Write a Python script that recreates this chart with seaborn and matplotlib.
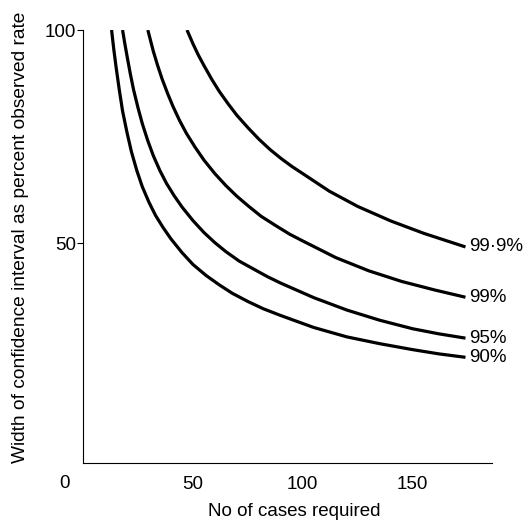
import pandas as pd
import matplotlib
matplotlib.use("Agg")
import matplotlib.pyplot as plt
import seaborn as sns

# values (no of cases, width as % of observed rate)
cases_90 = [13, 14, 15, 16.5, 18, 20, 22, 24.5, 27, 30, 33, 36.5, 40, 45, 50, 56, 62, 68, 75, 82, 90, 105, 120, 135, 150, 162, 174]
width_90 = [100, 95.5, 91.5, 86, 81, 76, 71.5, 67, 63.2, 59.6, 56.5, 53.6, 51, 47.8, 45, 42.4, 40.2, 38.2, 36.3, 34.6, 33, 30.2, 28, 26.4, 25, 24, 23.2]

cases_95 = [18, 19, 20, 21.5, 23, 25, 27, 29.5, 32, 35, 38, 41.5, 45, 50, 55, 60, 65, 71, 78, 84, 90, 105, 120, 135, 150, 162, 174]
width_95 = [100, 96.9, 94, 89.8, 86, 81.8, 78, 74, 70.5, 67, 64, 61.1, 58.5, 55.3, 52.5, 50.1, 48, 45.8, 43.8, 42.1, 40.6, 37.2, 34.3, 31.9, 29.9, 28.7, 27.7]

cases_99 = [29.5, 31, 32, 34, 36, 38.5, 41, 44, 47, 51, 55, 60, 65, 70, 75, 81, 88, 94, 100, 115, 130, 145, 160, 174]
width_99 = [100, 97, 95, 91.6, 88.5, 85.1, 82, 78.7, 75.8, 72.5, 69.5, 66.3, 63.5, 61, 58.8, 56.3, 54, 52.1, 50.5, 46.6, 43.5, 41, 39, 37.3]

cases_999 = [47.3, 48.5, 50, 52.5, 55, 58.5, 62, 66, 70, 75, 80, 85, 90, 95, 100, 112, 125, 140, 155, 174]
width_999 = [100, 98.6, 96.8, 94.1, 91.7, 88.5, 85.6, 82.7, 80, 77.1, 74.4, 72, 69.9, 68, 66.3, 62.2, 58.6, 55.2, 52.3, 49.1]

levels = ["90%", "95%", "99%", "99·9%"]
all_cases = [cases_90, cases_95, cases_99, cases_999]
all_widths = [width_90, width_95, width_99, width_999]

rows = []
for lev, xs, ys in zip(levels, all_cases, all_widths):
    for x, y in zip(xs, ys):
        rows.append({"cases": x, "width": y, "level": lev})
df = pd.DataFrame(rows)

sns.set_style("ticks")
plt.rcParams["font.family"] = ["Liberation Sans", "DejaVu Sans"]
plt.rcParams["text.color"] = "black"
plt.rcParams["xtick.color"] = "black"
plt.rcParams["ytick.color"] = "black"
plt.rcParams["axes.edgecolor"] = "black"

fig = plt.figure(figsize=(5.3, 5.24), dpi=100)
ax = fig.add_axes([0.1566, 0.1164, 0.7714, 0.8263])

sns.lineplot(data=df, x="cases", y="width", hue="level", sort=False,
             palette=["black"] * 4, linewidth=2.3, legend=False, ax=ax)
for line in ax.lines:
    line.set_solid_capstyle("butt")
    line.set_solid_joinstyle("round")

# curve labels at the right-hand ends
for lev, xs, ys in zip(levels, all_cases, all_widths):
    ax.text(xs[-1] + 1.5, ys[-1], lev, ha="left", va="center",
            fontsize=13.5, color="black", clip_on=False)

ax.set_xlim(0, 186)
ax.set_ylim(-1.6, 100)
ax.set_xticks([50, 100, 150])
ax.set_yticks([50, 100])
ax.tick_params(axis="x", length=0, pad=9, labelsize=13.5, colors="black")
ax.tick_params(axis="y", length=4, width=0.8, pad=1, labelsize=13.5, colors="black")
ax.text(-8.2, -4.4, "0", ha="center", va="top", fontsize=13.5,
        transform=ax.transData, clip_on=False)

sns.despine(ax=ax)
ax.spines["left"].set_linewidth(0.8)
ax.spines["bottom"].set_linewidth(0.8)
ax.set_xlabel("")
ax.set_ylabel("")

fig.text(0.555, 0.023, "No of cases required", ha="center", va="center", fontsize=13.5)
fig.text(0.038, 0.548, "Width of confidence interval as percent observed rate",
         ha="center", va="center", rotation=90, fontsize=13.8)

fig.savefig("out.png", dpi=100)
